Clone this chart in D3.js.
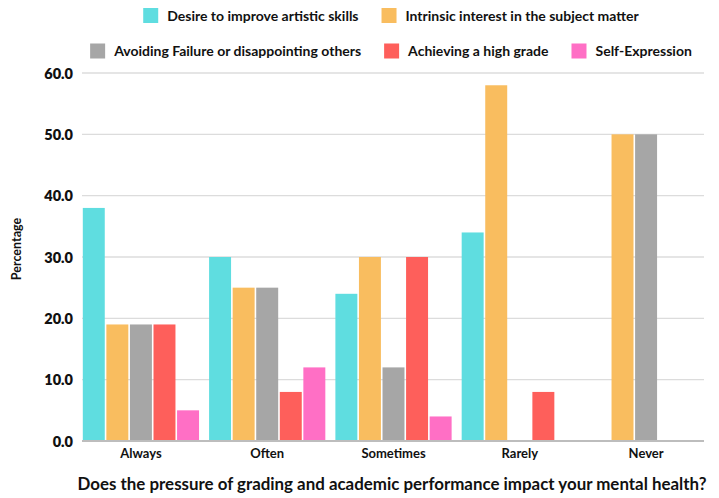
<!DOCTYPE html>
<html>
<head>
<meta charset="utf-8">
<script src="https://cdn.jsdelivr.net/npm/d3@7"></script>
<style>
  html, body { margin: 0; padding: 0; background: #fff; }
  svg { display: block; }
  text { font-family: Lato, "Open Sans", sans-serif; fill: #111; }
</style>
</head>
<body>
<svg id="chart" width="719" height="498"></svg>
<script>
// Answers to "Does the pressure of grading ... impact your mental health?"
const categories = ["Always", "Often", "Sometimes", "Rarely", "Never"];
const seriesNames = [
  "Desire to improve artistic skills",
  "Intrinsic interest in the subject matter",
  "Avoiding Failure or disappointing others",
  "Achieving a high grade",
  "Self-Expression"
];
const seriesColors = ["#5fdde0", "#f9bd5f", "#a6a6a6", "#fe5f5b", "#ff6fc5"];
const desireValues    = [38, 30, 24, 34, 0];
const intrinsicValues = [19, 25, 30, 58, 50];
const avoidingValues  = [19, 25, 12, 0, 50];
const gradeValues     = [19, 8, 30, 8, 0];
const selfExprValues  = [5, 12, 4, 0, 0];
const yTicks = [0, 10, 20, 30, 40, 50, 60];

const seriesValues = [desireValues, intrinsicValues, avoidingValues, gradeValues, selfExprValues];

const svg = d3.select("#chart");

const x0 = d3.scaleBand().domain(categories).range([82, 705]).paddingInner(0.067).paddingOuter(0);
const x1 = d3.scaleBand().domain(seriesNames).range([0, x0.bandwidth()]).padding(0);
const y = d3.scaleLinear().domain([0, 60]).range([441, 73]);

// horizontal gridlines
svg.append("g")
  .selectAll("line")
  .data(yTicks.filter(d => d > 0))
  .join("line")
  .attr("x1", 82).attr("x2", 704)
  .attr("y1", d => y(d)).attr("y2", d => y(d))
  .attr("stroke", "#dcdcdc").attr("stroke-width", 1.3);

// y tick labels
const yAxis = d3.axisLeft(y).tickValues(yTicks).tickFormat(d3.format(".1f")).tickSize(0).tickPadding(0);
const yg = svg.append("g").attr("transform", "translate(73,0)").call(yAxis);
yg.select(".domain").remove();
yg.selectAll("text")
  .style("font-family", "Lato, sans-serif")
  .attr("font-size", 14.5).attr("font-weight", 800).attr("fill", "#111")
  .attr("dy", "0.36em");

// bars
const groups = svg.append("g")
  .selectAll("g")
  .data(categories)
  .join("g")
  .attr("transform", d => `translate(${x0(d)},0)`);

groups.selectAll("rect")
  .data((c, i) => seriesNames.map((s, k) => ({ s, k, v: seriesValues[k][i] })).filter(d => d.v > 0))
  .join("rect")
  .attr("x", d => x1(d.s) + 0.8)
  .attr("width", x1.bandwidth() - 1.6)
  .attr("y", d => y(d.v))
  .attr("height", d => y(0) - y(d.v))
  .attr("fill", d => seriesColors[d.k]);

// baseline
svg.append("line")
  .attr("x1", 82).attr("x2", 704)
  .attr("y1", y(0)).attr("y2", y(0))
  .attr("stroke", "#bdbdbd").attr("stroke-width", 2);

// category labels
const xAxis = d3.axisBottom(x0).tickSize(0).tickPadding(0);
const xg = svg.append("g").attr("transform", "translate(0,458)").call(xAxis);
xg.select(".domain").remove();
xg.selectAll("text")
  .style("font-family", "Lato, sans-serif")
  .attr("font-size", 13).attr("font-weight", 700).attr("fill", "#111")
  .attr("dy", 0).attr("y", 0);

// axis titles
svg.append("text")
  .attr("x", 392).attr("y", 490)
  .attr("text-anchor", "middle")
  .attr("font-size", 16.9).attr("font-weight", 700)
  .text("Does the pressure of grading and academic performance impact your mental health?");

svg.append("text")
  .attr("transform", "translate(21,249) rotate(-90)")
  .attr("text-anchor", "middle")
  .attr("font-size", 12.5).attr("font-weight", 700)
  .text("Percentage");

// legend, two centred rows
const legendRows = [[0, 1], [2, 3, 4]];
const legendY = [15.5, 51];
legendRows.forEach((row, r) => {
  const g = svg.append("g");
  let cx = 0;
  row.forEach(k => {
    const item = g.append("g").attr("transform", `translate(${cx},0)`);
    item.append("rect")
      .attr("x", 0).attr("y", -7.5).attr("width", 15).attr("height", 15)
      .attr("fill", seriesColors[k]);
    const t = item.append("text")
      .attr("x", 24).attr("y", 0).attr("dy", "0.36em")
      .attr("font-size", 14).attr("font-weight", 700)
      .text(seriesNames[k]);
    cx += 24 + t.node().getComputedTextLength() + 23;
  });
  const total = cx - 23;
  g.attr("transform", `translate(${391 - total / 2},${legendY[r]})`);
});
</script>
</body>
</html>
